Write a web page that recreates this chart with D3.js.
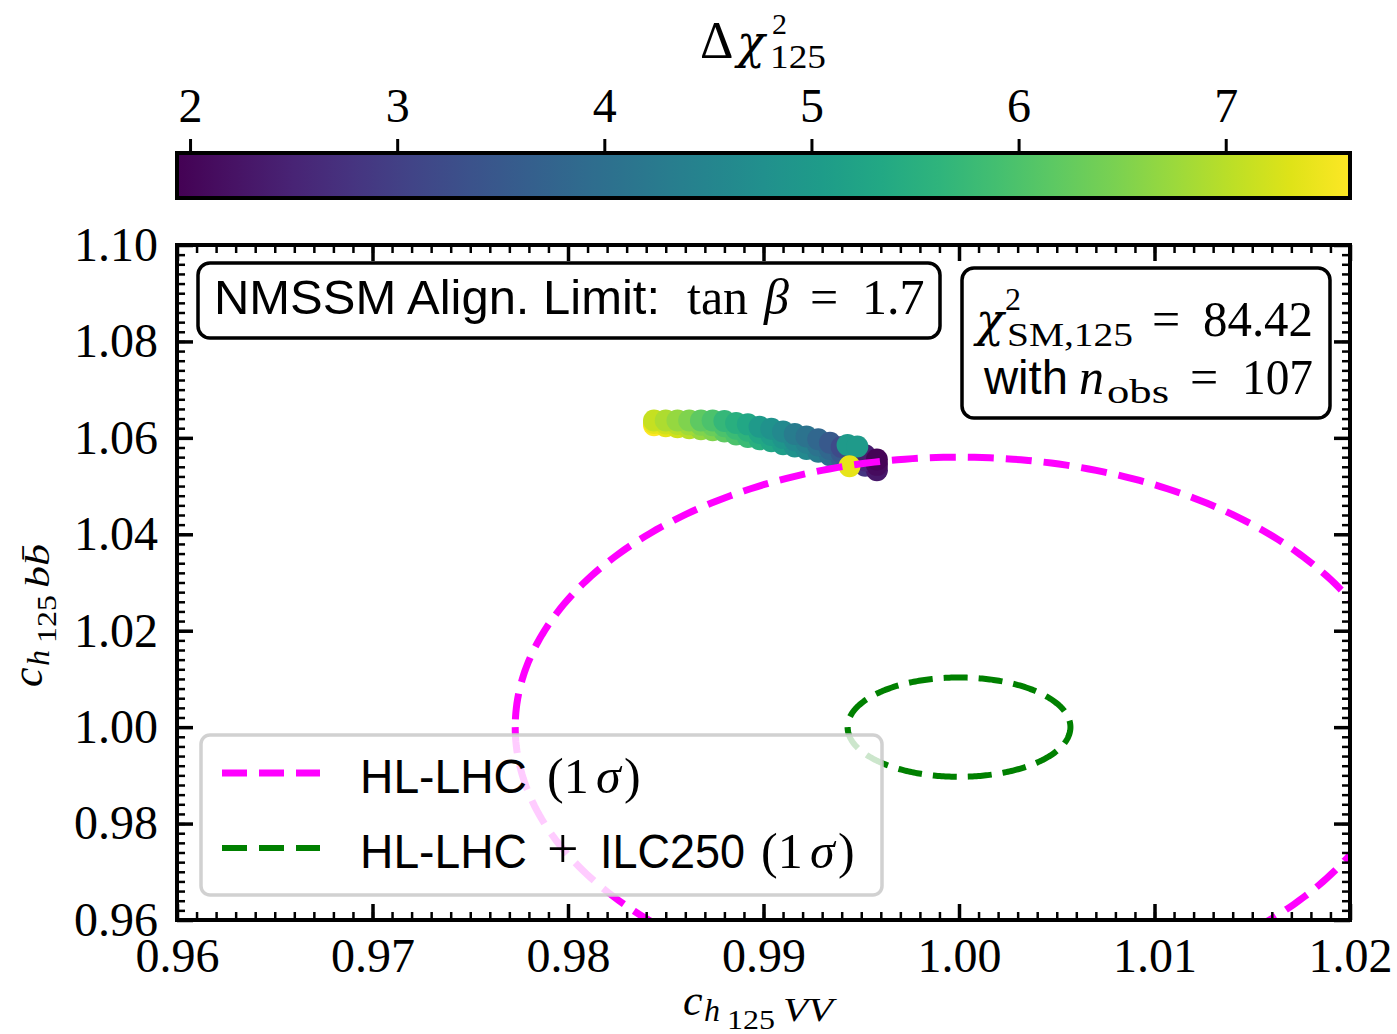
<!DOCTYPE html>
<html><head><meta charset="utf-8">
<script src="https://cdn.jsdelivr.net/npm/d3@7"></script>
<style>body{margin:0;background:#fff}</style>
</head><body>
<svg id="c" width="1397" height="1034"></svg>
<script>
// ---------------- data ----------------
const xTicks = [0.96, 0.97, 0.98, 0.99, 1.00, 1.01, 1.02];
const xTickLabels = ["0.96", "0.97", "0.98", "0.99", "1.00", "1.01", "1.02"];
const yTicks = [0.96, 0.98, 1.00, 1.02, 1.04, 1.06, 1.08, 1.10];
const yTickLabels = ["0.96", "0.98", "1.00", "1.02", "1.04", "1.06", "1.08", "1.10"];
const cbTicks = [2, 3, 4, 5, 6, 7];
const cbDomain = [1.937, 7.6];

// scan points: x = c_{h125VV}, y = c_{h125bb}, c = delta chi^2
const pointX = [
 0.9844,0.9850,0.9856,0.9862,0.9868,0.9874,0.9880,0.9886,0.9892,0.9898,0.9904,0.9910,0.9916,0.9922,0.9928,0.9934,0.9940,0.9946,0.9952,0.9958,
 0.9844,0.9850,0.9856,0.9862,0.9868,0.9874,0.9880,0.9886,0.9892,0.9898,0.9904,0.9910,0.9916,0.9922,0.9928,0.9934,0.9940,0.9946,0.9952,0.9958,
 0.9844,0.9850,0.9856,0.9862,0.9868,0.9874,0.9880,0.9886,0.9892,0.9898,0.9904,0.9910,0.9916,0.9922,0.9928,0.9934,0.9940,0.9946,0.9952,0.9958,
 0.9943,0.9948,0.9944];
const pointY = [
 1.0626,1.0624,1.0622,1.0620,1.0618,1.0616,1.0613,1.0607,1.0602,1.0597,1.0593,1.0587,1.0582,1.0577,1.0571,1.0564,1.0557,1.0549,1.0542,1.0533,
 1.0631,1.0630,1.0629,1.0628,1.0627,1.0626,1.0624,1.0619,1.0615,1.0610,1.0606,1.0600,1.0595,1.0590,1.0584,1.0577,1.0569,1.0561,1.0553,1.0544,
 1.0636,1.0636,1.0636,1.0636,1.0636,1.0636,1.0635,1.0631,1.0628,1.0623,1.0619,1.0613,1.0608,1.0603,1.0597,1.0590,1.0581,1.0573,1.0564,1.0555,
 1.0585,1.0582,1.0541];
const pointC = [
 7.6,7.4,7.2,7.0,6.7,6.5,6.2,6.0,5.8,5.5,5.3,5.1,4.8,4.6,4.3,4.0,3.7,3.3,2.8,2.3,
 7.4,7.2,7.0,6.8,6.5,6.3,6.0,5.8,5.6,5.3,5.1,4.9,4.6,4.4,4.1,3.8,3.5,3.1,2.6,2.1,
 7.1,6.9,6.7,6.5,6.2,6.0,5.7,5.5,5.3,5.0,4.8,4.6,4.3,4.1,3.8,3.5,3.2,2.8,2.4,2.0,
 5.0,5.0,7.4];

// 1 sigma ellipses: centre x, centre y, half width, half height
const ellipseNames = ["HL-LHC (1σ)", "HL-LHC + ILC250 (1σ)"];
const ellipseCX = [1.000, 1.000];
const ellipseCY = [1.000, 1.000];
const ellipseRX = [0.0227, 0.0057];
const ellipseRY = [0.0560, 0.0103];
const ellipseColors = ["#ff00ff", "#008000"];

// ---------------- drawing ----------------
const svg = d3.select("#c");
const SERIF = "'Liberation Serif', 'DejaVu Serif', serif";
const SANS = "'Liberation Sans', 'DejaVu Sans', sans-serif";
const CHI = "'DejaVu Serif', serif";
const L = 177, R = 1350, T = 245, B = 920;
const x = d3.scaleLinear().domain([0.96, 1.02]).range([L, R]);
const y = d3.scaleLinear().domain([0.96, 1.10]).range([B, T]);
const color = d3.scaleSequential(d3.interpolateViridis).domain(cbDomain);

// rich text: each part may carry its own absolute x / y, size, family, italic, length
function rich(parent, parts, size) {
  const t = parent.append("text").attr("font-size", size).attr("fill", "#000");
  parts.forEach(p => {
    const s = t.append("tspan").text(p.t)
      .attr("font-family", p.f === "s" ? SANS : (p.f === "c" ? CHI : SERIF));
    if (p.i) s.attr("font-style", "italic");
    if (p.z) s.attr("font-size", p.z);
    if (p.x !== undefined) s.attr("x", p.x);
    if (p.y !== undefined) s.attr("y", p.y);
    if (p.w) s.attr("textLength", p.w).attr("lengthAdjust", "spacingAndGlyphs");
  });
  return t;
}

// colorbar
const cbL = 177, cbR = 1350, cbT = 153, cbB = 198;
const cbx = d3.scaleLinear().domain(cbDomain).range([cbL, cbR]);
const defs = svg.append("defs");
const grad = defs.append("linearGradient").attr("id", "vir").attr("x1", "0").attr("x2", "1").attr("y1", "0").attr("y2", "0");
d3.range(0, 1.0001, 0.05).forEach(s => grad.append("stop").attr("offset", s)
  .attr("stop-color", color(cbDomain[0] + s * (cbDomain[1] - cbDomain[0]))));
svg.append("rect").attr("x", cbL).attr("y", cbT).attr("width", cbR - cbL).attr("height", cbB - cbT)
  .attr("fill", "url(#vir)").attr("stroke", "#000").attr("stroke-width", 4);
const cbAxis = svg.append("g").attr("transform", `translate(0,${cbT - 2})`)
  .call(d3.axisTop(cbx).tickValues(cbTicks).tickSize(12).tickPadding(17).tickFormat(d3.format("d")));
cbAxis.select(".domain").remove();
cbAxis.selectAll("line").attr("stroke-width", 3);
cbAxis.selectAll("text").attr("font-family", SERIF).attr("font-size", 48).attr("fill", "#000");
rich(svg, [
  {t: "Δ", x: 700, y: 58, z: 52}, {t: "χ", f: "c", i: true, x: 737, y: 58, z: 46},
  {t: "2", x: 772, y: 34, z: 30}, {t: "125", x: 770, y: 68, z: 34, w: 56}
], 48);

// clip
defs.append("clipPath").attr("id", "plotclip").append("rect")
  .attr("x", L).attr("y", T).attr("width", R - L).attr("height", B - T);

// scatter
const pts = pointX.map((v, i) => ({x: v, y: pointY[i], c: pointC[i]}));
svg.append("g").attr("clip-path", "url(#plotclip)").selectAll("circle").data(pts).join("circle")
  .attr("cx", d => x(d.x)).attr("cy", d => y(d.y)).attr("r", 11)
  .attr("fill", d => color(d.c));

// ellipses
const ell = ellipseCX.map((cx, i) => ({cx, cy: ellipseCY[i], rx: ellipseRX[i], ry: ellipseRY[i], col: ellipseColors[i]}));
const line = d3.line().x(d => x(d[0])).y(d => y(d[1]));
const eg = svg.append("g").attr("clip-path", "url(#plotclip)");
ell.forEach((e, k) => {
  const pp = d3.range(0, 361, 1).map(a => {
    const t = (a + 180) * Math.PI / 180;
    return [e.cx + e.rx * Math.cos(t), e.cy + e.ry * Math.sin(t)];
  });
  eg.append("path").attr("d", line(pp)).attr("fill", "none").attr("stroke", e.col)
    .attr("stroke-width", k === 0 ? 7 : 6).attr("stroke-dasharray", k === 0 ? "26,12" : "24,11");
});

// axes ticks (inward, all sides)
function styleAx(g, w) {
  g.select(".domain").remove();
  g.selectAll("line").attr("stroke", "#000").attr("stroke-width", w);
}
const xMinor = d3.range(0.96, 1.0201, 0.001);
const yMinor = d3.range(0.96, 1.1001, 0.002);
svg.append("g").attr("transform", `translate(0,${B})`).call(d3.axisBottom(x).tickValues(xMinor).tickSize(-8).tickFormat("")).call(g => styleAx(g, 2.5));
svg.append("g").attr("transform", `translate(0,${T})`).call(d3.axisTop(x).tickValues(xMinor).tickSize(-8).tickFormat("")).call(g => styleAx(g, 2.5));
svg.append("g").attr("transform", `translate(${L},0)`).call(d3.axisLeft(y).tickValues(yMinor).tickSize(-8).tickFormat("")).call(g => styleAx(g, 2.5));
svg.append("g").attr("transform", `translate(${R},0)`).call(d3.axisRight(y).tickValues(yMinor).tickSize(-8).tickFormat("")).call(g => styleAx(g, 2.5));

const xb = svg.append("g").attr("transform", `translate(0,${B})`)
  .call(d3.axisBottom(x).tickValues(xTicks).tickSize(-16).tickPadding(18).tickFormat((d, i) => xTickLabels[i]));
styleAx(xb, 3.5);
xb.selectAll("text").attr("font-family", SERIF).attr("font-size", 48).attr("fill", "#000");
svg.append("g").attr("transform", `translate(0,${T})`).call(d3.axisTop(x).tickValues(xTicks).tickSize(-16).tickFormat("")).call(g => styleAx(g, 3.5));
const yl = svg.append("g").attr("transform", `translate(${L},0)`)
  .call(d3.axisLeft(y).tickValues(yTicks).tickSize(-16).tickPadding(19).tickFormat((d, i) => yTickLabels[i]));
styleAx(yl, 3.5);
yl.selectAll("text").attr("font-family", SERIF).attr("font-size", 48).attr("fill", "#000");
svg.append("g").attr("transform", `translate(${R},0)`).call(d3.axisRight(y).tickValues(yTicks).tickSize(-16).tickFormat("")).call(g => styleAx(g, 3.5));

// frame
svg.append("rect").attr("x", L).attr("y", T).attr("width", R - L).attr("height", B - T)
  .attr("fill", "none").attr("stroke", "#000").attr("stroke-width", 4);

// axis labels
rich(svg, [
  {t: "c", i: true, x: 683, y: 1015, z: 44}, {t: "h", i: true, x: 704, y: 1021, z: 32},
  {t: "125", x: 727, y: 1029, z: 28, w: 48}, {t: "VV", i: true, x: 783, y: 1021, z: 34, w: 50}
], 44);
const yg = svg.append("g").attr("transform", "translate(42,687) rotate(-90)");
rich(yg, [
  {t: "c", i: true, x: 0, y: 0, z: 44}, {t: "h", i: true, x: 21, y: 7, z: 32},
  {t: "125", x: 44, y: 14, z: 28, w: 48}, {t: "bb\u0304", i: true, x: 99, y: 7, z: 34, w: 44}
], 44);

// legend
const lg = svg.append("g");
lg.append("rect").attr("x", 201).attr("y", 735).attr("width", 681).attr("height", 160).attr("rx", 9)
  .attr("fill", "#fff").attr("fill-opacity", 0.8).attr("stroke", "#cccccc").attr("stroke-opacity", 0.9).attr("stroke-width", 3.5);
ellipseNames.forEach((n, i) => {
  const yy = 773 + i * 75;
  const by = yy + 20;
  lg.append("line").attr("x1", 222).attr("x2", 320).attr("y1", yy).attr("y2", yy)
    .attr("stroke", ellipseColors[i]).attr("stroke-width", i === 0 ? 7 : 6).attr("stroke-dasharray", "25,12");
  const parts = i === 0
    ? [{t: "HL-LHC", f: "s", x: 360, y: by, z: 48, w: 167}, {t: "(1", x: 547, y: by}, {t: "σ", i: true, x: 596, y: by}, {t: ")", x: 624, y: by}]
    : [{t: "HL-LHC", f: "s", x: 360, y: by, z: 48, w: 167}, {t: "+", x: 547, y: by, z: 56}, {t: "ILC250", f: "s", x: 600, y: by, z: 48, w: 145},
       {t: "(1", x: 761, y: by}, {t: "σ", i: true, x: 810, y: by}, {t: ")", x: 838, y: by}];
  rich(lg, parts, 50);
});

// title box
svg.append("rect").attr("x", 198).attr("y", 263).attr("width", 742).attr("height", 75).attr("rx", 12)
  .attr("fill", "#fff").attr("stroke", "#000").attr("stroke-width", 3.5);
rich(svg, [
  {t: "NMSSM Align. Limit:", f: "s", x: 214, y: 314, z: 49, w: 446},
  {t: "tan", x: 687, y: 314}, {t: "β", i: true, x: 764, y: 314}, {t: "=", x: 810, y: 314}, {t: "1.7", x: 862, y: 314}
], 50);

// chi2 box
svg.append("rect").attr("x", 962).attr("y", 268).attr("width", 368).attr("height", 150).attr("rx", 12)
  .attr("fill", "#fff").attr("stroke", "#000").attr("stroke-width", 3.5);
rich(svg, [
  {t: "χ", f: "c", i: true, x: 976, y: 336, z: 46}, {t: "2", x: 1005, y: 310, z: 32},
  {t: "SM,125", x: 1007, y: 346, z: 34, w: 126}, {t: "=", x: 1152, y: 336}, {t: "84.42", x: 1203, y: 336, w: 110}
], 50);
rich(svg, [
  {t: "with", f: "s", x: 984, y: 394, z: 48, w: 84}, {t: "n", i: true, x: 1079, y: 394},
  {t: "obs", x: 1107, y: 403, z: 34, w: 62}, {t: "=", x: 1190, y: 394}, {t: "107", x: 1242, y: 394, w: 71}
], 50);
</script>
</body></html>
